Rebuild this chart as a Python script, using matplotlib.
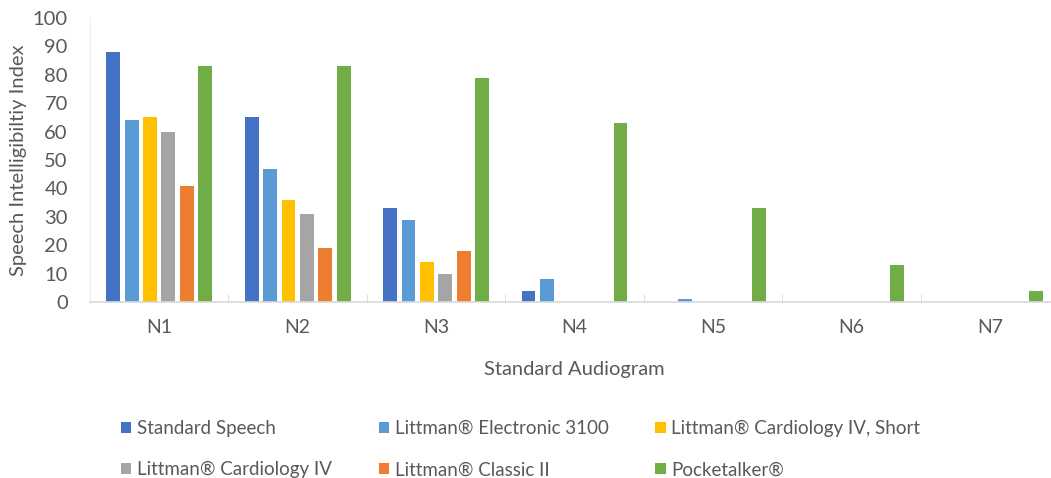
import numpy as np
import matplotlib.pyplot as plt

plt.rcParams['font.family'] = ['Lato', 'DejaVu Sans']

# Speech intelligibility index per standard audiogram
audiograms = ['N1', 'N2', 'N3', 'N4', 'N5', 'N6', 'N7']
series = ['Standard Speech', 'Littman® Electronic 3100', 'Littman® Cardiology IV, Short',
          'Littman® Cardiology IV', 'Littman® Classic II', 'Pocketalker®']
standard_speech = [88, 65, 33, 4, 0, 0, 0]
electronic_3100 = [64, 47, 29, 8, 1, 0, 0]
cardiology_short = [65, 36, 14, 0, 0, 0, 0]
cardiology_iv = [60, 31, 10, 0, 0, 0, 0]
classic_ii = [41, 19, 18, 0, 0, 0, 0]
pocketalker = [83, 83, 79, 63, 33, 13, 4]
values = [standard_speech, electronic_3100, cardiology_short,
          cardiology_iv, classic_ii, pocketalker]
colors = ['#4472C4', '#5B9BD5', '#FFC000', '#A5A5A5', '#ED7D31', '#70AD47']

fig = plt.figure(figsize=(10.51, 4.78), dpi=100)
ax = fig.add_axes([90 / 1051, 1 - 302 / 478, 969 / 1051, 284 / 478])

x = np.arange(len(audiograms))
pitch = 0.133
width = 0.10
handles = []
for i, (vals, col) in enumerate(zip(values, colors)):
    b = ax.bar(x + (i - 2.5) * pitch, vals, width, color=col, label=series[i])
    handles.append(b)

ax.set_xlim(-0.5, len(audiograms) - 0.5)
ax.set_ylim(0, 100)
ax.set_yticks(range(0, 101, 10))
ax.set_xticks(x)
ax.set_xticklabels(audiograms)
ax.set_xticks(np.arange(0.5, len(audiograms) - 0.5, 1), minor=True)

for s in ['top', 'right']:
    ax.spines[s].set_visible(False)
ax.spines['bottom'].set_color('#D9D9D9')
ax.spines['bottom'].set_linewidth(1.2)
ax.spines['left'].set_color('#EEEEEE')
ax.tick_params(axis='x', which='major', length=0, labelsize=14, colors='#595959', pad=12)
ax.tick_params(axis='x', which='minor', direction='in', length=6, color='#D9D9D9')
ax.tick_params(axis='y', length=0, labelsize=14.5, colors='#595959', pad=16)

ax.set_ylabel('Speech Intelligibiltiy Index', fontsize=14.5, color='#595959', labelpad=4)
ax.set_xlabel('Standard Audiogram', fontsize=14.5, color='#595959', labelpad=18)

# row-major legend order: matplotlib fills columns first
order = [0, 3, 1, 4, 2, 5]
fig.legend([handles[i] for i in order], [series[i] for i in order],
           ncol=3, loc='upper left', bbox_to_anchor=(104 / 1051, 1 - 403 / 478),
           frameon=False, fontsize=13.5, labelcolor='#595959',
           handlelength=0.55, handleheight=0.55, handletextpad=0.3,
           columnspacing=2.5, labelspacing=1.3)

fig.savefig('out.png', dpi=100)
